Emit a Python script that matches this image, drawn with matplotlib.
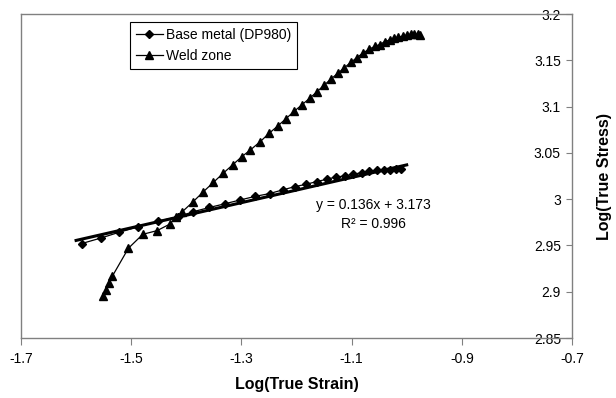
import matplotlib
matplotlib.use("Agg")
import matplotlib.pyplot as plt
import numpy as np

plt.rcParams['font.family'] = ['Liberation Sans', 'DejaVu Sans']

# Base metal (DP980) data
base_x = [-1.590, -1.555, -1.523, -1.488, -1.452, -1.415, -1.387, -1.358, -1.330,
          -1.303, -1.275, -1.249, -1.225, -1.203, -1.183, -1.163, -1.145, -1.128,
          -1.112, -1.097, -1.082, -1.068, -1.054, -1.042, -1.030, -1.019, -1.010]
base_y = [2.952, 2.958, 2.964, 2.970, 2.976, 2.981, 2.9865, 2.991, 2.995,
          2.999, 3.003, 3.006, 3.010, 3.0135, 3.016, 3.019, 3.0215, 3.024,
          3.025, 3.027, 3.0285, 3.030, 3.031, 3.032, 3.032, 3.033, 3.033]

# Weld zone data
weld_x = [-1.552, -1.546, -1.540, -1.534, -1.505, -1.479, -1.453, -1.430, -1.418,
          -1.408, -1.388, -1.369, -1.351, -1.333, -1.316, -1.299, -1.284, -1.266,
          -1.250, -1.234, -1.219, -1.204, -1.190, -1.176, -1.163, -1.150, -1.137,
          -1.125, -1.113, -1.101, -1.090, -1.079, -1.068, -1.058, -1.049, -1.040,
          -1.031, -1.023, -1.015, -1.007, -1.000, -0.993, -0.986, -0.980, -0.975]
weld_y = [2.895, 2.902, 2.909, 2.917, 2.947, 2.962, 2.966, 2.973, 2.981,
          2.986, 2.997, 3.008, 3.018, 3.028, 3.037, 3.046, 3.053, 3.062,
          3.071, 3.079, 3.087, 3.095, 3.102, 3.109, 3.116, 3.123, 3.130,
          3.136, 3.142, 3.148, 3.153, 3.158, 3.162, 3.165, 3.167, 3.170,
          3.172, 3.174, 3.175, 3.176, 3.177, 3.178, 3.178, 3.178, 3.177]

# Linear trend line (base metal)
trend_slope = 0.136
trend_intercept = 3.173
trend_range = [-1.6, -1.0]

x_ticks = [-1.7, -1.5, -1.3, -1.1, -0.9, -0.7]
y_ticks = [2.85, 2.9, 2.95, 3.0, 3.05, 3.1, 3.15, 3.2]
y_tick_labels = ['2.85', '2.9', '2.95', '3', '3.05', '3.1', '3.15', '3.2']

W, H = 616, 398
fig = plt.figure(figsize=(W / 100, H / 100), dpi=100)
ax = fig.add_axes([21 / W, 1 - 338 / H, (572 - 21) / W, (338 - 14) / H])

tx = np.array(trend_range)
ax.plot(tx, trend_slope * tx + trend_intercept, color='black', lw=2.2, zorder=2)

ax.plot(base_x, base_y, color='black', lw=0.9, marker='D', ms=4.2,
        mfc='black', mec='black', label='Base metal (DP980)', zorder=3)
ax.plot(weld_x, weld_y, color='black', lw=0.9, marker='^', ms=5.5,
        mfc='black', mec='black', label='Weld zone', zorder=3)

ax.set_xlim(-1.7, -0.7)
ax.set_ylim(2.85, 3.2)
ax.set_xticks(x_ticks)
ax.set_xticklabels([str(v) for v in x_ticks])
ax.set_yticks(y_ticks)
ax.set_yticklabels(y_tick_labels)

gray = '#808080'
for s in ax.spines.values():
    s.set_color(gray)
    s.set_linewidth(1.0)

ax.tick_params(axis='x', direction='out', length=5, color=gray, labelsize=10,
               pad=5, top=False, bottom=True)
ax.yaxis.tick_right()
ax.tick_params(axis='y', direction='in', length=4, color=gray, labelsize=10,
               pad=-8, left=False, right=True, labelleft=False, labelright=True)
for t in ax.yaxis.get_major_ticks():
    t.label2.set_horizontalalignment('right')

ax.set_xlabel('Log(True Strain)', fontsize=11.5, fontweight='bold')
ax.xaxis.set_label_coords(0.5, (338 - 384) / 324)
ax.xaxis.label.set_va('center')

ax.yaxis.set_label_position('right')
ax.set_ylabel('Log(True Stress)', fontsize=11.5, fontweight='bold', rotation=90)
ax.yaxis.set_label_coords((604 - 21) / 551, 0.5)
ax.yaxis.label.set_va('center')
ax.yaxis.label.set_ha('center')

fig.text(373 / W, 1 - 205 / H, 'y = 0.136x + 3.173', fontsize=10,
         ha='center', va='center')
fig.text(373 / W, 1 - 224 / H, 'R² = 0.996', fontsize=10,
         ha='center', va='center')

leg = ax.legend(loc='upper left', bbox_to_anchor=(130 / W, 1 - 22 / H),
                bbox_transform=fig.transFigure, fontsize=10, frameon=True,
                fancybox=False, edgecolor='black', framealpha=1,
                handlelength=2.0, handletextpad=0.2, borderpad=0.4,
                labelspacing=0.55, borderaxespad=0)
leg.get_frame().set_linewidth(0.8)

fig.savefig('out.png', dpi=100)
